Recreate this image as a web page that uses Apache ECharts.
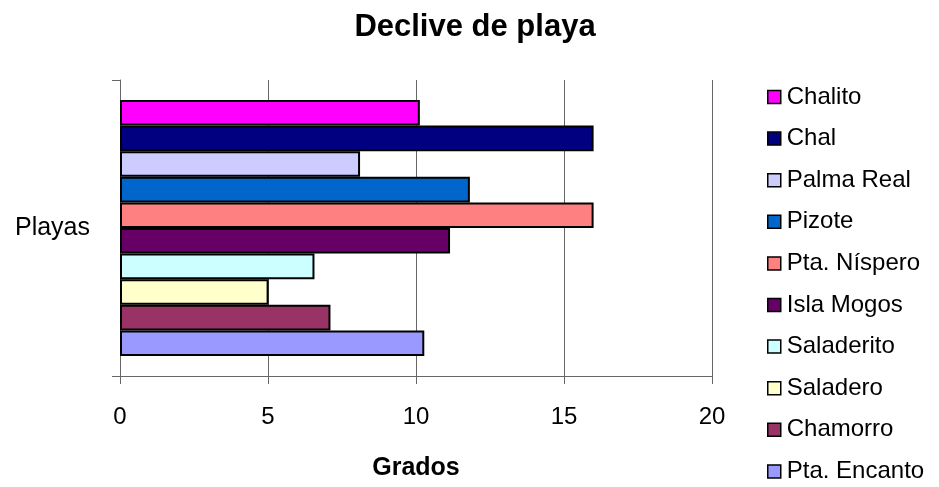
<!DOCTYPE html>
<html><head><meta charset="utf-8">
<script src="https://cdn.jsdelivr.net/npm/echarts@6/dist/echarts.min.js"></script>
<style>html,body{margin:0;padding:0;background:#fff}#c{width:939px;height:487px}</style>
</head><body><div id="c"></div>
<script>
const categories = ['Playas'];
const seriesNames = ['Chalito','Chal','Palma Real','Pizote','Pta. Níspero','Isla Mogos','Saladerito','Saladero','Chamorro','Pta. Encanto'];
const seriesValues = [10.13, 16.0, 8.11, 11.82, 16.0, 11.15, 6.57, 5.02, 7.11, 10.28];
const seriesColors = ['#FF00FF','#000080','#CCCCFF','#0066CC','#FF8080','#660066','#CCFFFF','#FFFFCC','#993366','#9999FF'];
const xTicks = [0, 5, 10, 15, 20];

const FONT = '"Liberation Sans", Arial, sans-serif';
const chart = echarts.init(document.getElementById('c'), null, {renderer:'canvas'});
chart.setOption({
  animation: false,
  backgroundColor: '#fff',
  title: {text: 'Declive de playa', left: 470, textAlign: 'center', top: 7,
    textStyle: {fontFamily: FONT, fontSize: 31, fontWeight: 'bold', color: '#000'}},
  grid: {left: 120, right: 227, top: 80, bottom: 111, containLabel: false},
  legend: {
    orient: 'vertical', left: 762, top: 80, height: 420, itemWidth: 13, itemHeight: 13, itemGap: 17.6,
    icon: 'rect',
    itemStyle: {borderColor: '#000', borderWidth: 1.5},
    textStyle: {fontFamily: FONT, fontSize: 24, color: '#000', lineHeight: 24, padding: [0,0,0,1]},
    data: seriesNames
  },
  xAxis: {
    type: 'value', min: xTicks[0], max: xTicks[xTicks.length-1], interval: 5,
    name: 'Grados', nameLocation: 'middle', nameGap: 80,
    nameTextStyle: {fontFamily: FONT, fontSize: 25, fontWeight: 'bold', color: '#000'},
    axisLine: {show: true, lineStyle: {color: '#666', width: 1}},
    axisTick: {show: true, length: 8, inside: false, lineStyle: {color: '#666'}},
    axisLabel: {fontFamily: FONT, fontSize: 24, color: '#000', margin: 29},
    splitLine: {show: true, lineStyle: {color: '#666', width: 1}}
  },
  yAxis: {
    type: 'category', data: categories, inverse: true,
    axisLine: {show: true, lineStyle: {color: '#666', width: 1}},
    axisTick: {show: true, length: 8, lineStyle: {color: '#666'}},
    axisLabel: {fontFamily: FONT, fontSize: 25, color: '#000', margin: 30}
  },
  series: seriesNames.map((n, i) => ({
    name: n, type: 'bar', data: [seriesValues[i]],
    barGap: '0%', barCategoryGap: '13.5%',
    itemStyle: {color: seriesColors[i], borderColor: '#000', borderWidth: 2}
  }))
});
</script></body></html>
